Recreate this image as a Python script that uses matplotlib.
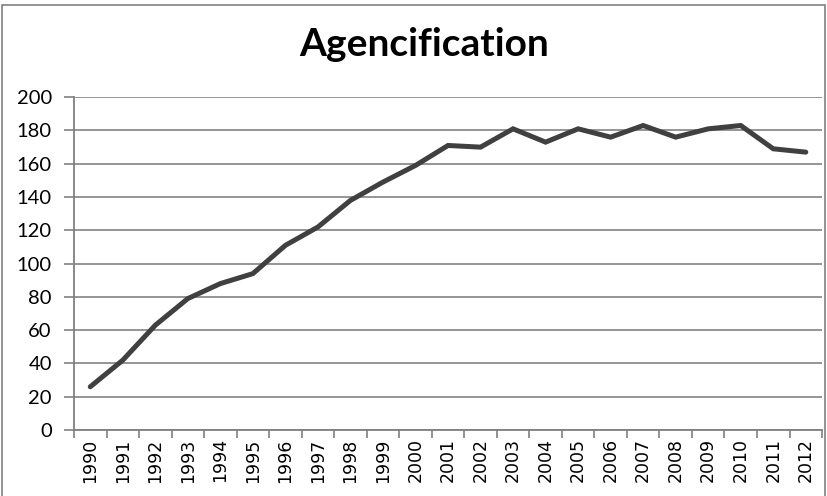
import matplotlib.pyplot as plt
from matplotlib.patches import Rectangle

# Data
years = [str(y) for y in range(1990, 2013)]
counts = [26, 42, 63, 79, 88, 94, 111, 122, 138, 149, 159, 171,
          170, 181, 173, 181, 176, 183, 176, 181, 183, 169, 167]
y_ticks = list(range(0, 201, 20))

fig = plt.figure(figsize=(8.27, 4.96), dpi=100)
ax = fig.add_axes([0.0895, 0.133, 0.9045, 0.671])

x = list(range(len(years)))
ax.plot(x, counts, color='#404040', linewidth=3.6, solid_capstyle='round',
        solid_joinstyle='miter', zorder=3)

ax.set_xlim(-0.5, len(years) - 0.5)
ax.set_ylim(0, 200)
ax.set_yticks(y_ticks)
ax.set_yticklabels([str(v) for v in y_ticks], fontsize=14.5, family='Lato')
ax.set_xticks(x)
ax.set_xticklabels(years, rotation=90, fontsize=12.5, family='DejaVu Sans')
ax.tick_params(axis='x', length=0, pad=6)
ax.set_xticks([i - 0.5 for i in range(len(years) + 1)], minor=True)
ax.tick_params(axis='x', which='minor', length=6, color='#808080', width=1.2)
ax.tick_params(axis='y', length=7, color='#808080', width=1.2, pad=9)

ax.grid(axis='y', color='#8c8c8c', linewidth=1.3)
ax.set_axisbelow(True)
for s in ['top', 'right']:
    ax.spines[s].set_visible(False)
for s in ['left', 'bottom']:
    ax.spines[s].set_color('#808080')
    ax.spines[s].set_linewidth(1.3)

fig.text(0.513, 0.911, 'Agencification', ha='center', va='center',
         fontsize=28, fontweight='bold', family='Lato')

fig.patches.append(Rectangle((0.002, -0.01), 0.996, 1.0, transform=fig.transFigure,
                             fill=False, edgecolor='#808080', linewidth=1.2))

fig.savefig('out.png', dpi=100)
